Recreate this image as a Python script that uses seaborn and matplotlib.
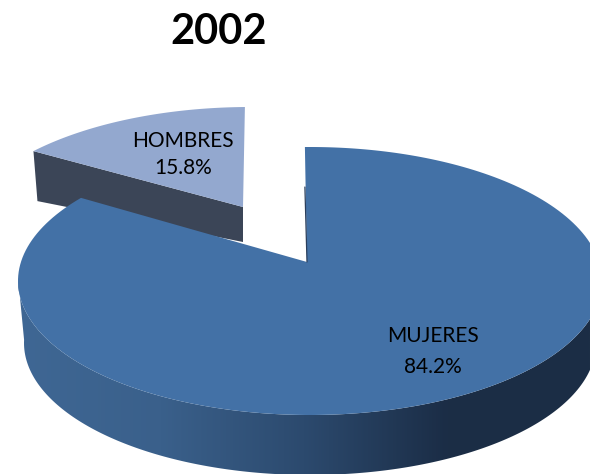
import numpy as np
import matplotlib
matplotlib.use("Agg")
import matplotlib.pyplot as plt
from matplotlib.patches import Polygon
import seaborn as sns

# data
title = "2002"
categories = ["MUJERES", "HOMBRES"]
shares = [84.2, 15.8]

sns.set_theme(style="white")
plt.rcParams['font.family'] = ['Lato', 'DejaVu Sans']

top_color = "#4371A6"
men_color = "#93A8CF"
men_side = "#3B4557"
side_cmap = sns.blend_palette(["#3F6794", "#3A608B", "#2C4A6E", "#1B2D46", "#1C2E45"], as_cmap=True)

fig = plt.figure(figsize=(5.9, 4.74), dpi=100)
ax = fig.add_axes([0, 0, 1, 1])
ax.set_xlim(0, 590)
ax.set_ylim(474, 0)
ax.axis("off")

CX, CY, RX, RY = 310, 281, 292, 134
DEPTH, RX2, RY2 = 62, 286, 132


def warp(deg):
    """tilted-view correction of a pie angle (deg clockwise from 12 o'clock)"""
    d = np.asarray(deg, dtype=float)
    return np.radians(d - 1 + 6.8 * np.sin(np.radians(2 * (360 - d))))


def arc(start, end, cx=CX, cy=CY, rx=RX, ry=RY, n=240):
    t = warp(np.linspace(start, end, n))
    return np.column_stack([cx + rx * np.sin(t), cy - ry * np.cos(t)])


boundary = shares[0] / sum(shares) * 360

# HOMBRES (exploded, behind)
DX, DY = -60, -40
men_arc = arc(boundary + 3.5, 360, CX + DX, CY + DY)
men_apex = np.array([243, 207])
end_pt = men_arc[0]
ax.add_patch(Polygon([end_pt, men_apex, men_apex + [0, 35], end_pt + [4, 50]],
                     closed=True, fc=men_side, ec="none", zorder=1))
ax.add_patch(Polygon(np.vstack([men_apex, men_arc]), closed=True,
                     fc=men_color, ec="none", zorder=2))

# MUJERES side wall with gradient
upper = arc(90, boundary)
upper = upper[upper[:, 1] >= CY - 5]
lower = arc(90, boundary, CX, CY + DEPTH, RX2, RY2)
lower = lower[lower[:, 1] >= CY + DEPTH - 5]
wall = Polygon(np.vstack([upper, lower[::-1]]), closed=True, fc="none", ec="none",
               transform=ax.transData, zorder=3)
ax.add_patch(wall)
grad = np.linspace(0, 1, 256).reshape(1, -1)
im = ax.imshow(grad, extent=[18, 590, 474, 260], cmap=side_cmap, aspect="auto", zorder=3)
im.set_clip_path(wall)
ax.set_xlim(0, 590)
ax.set_ylim(474, 0)

# MUJERES top face
apex = np.array([307, 262])
women_arc = arc(0, boundary)
ax.add_patch(Polygon(np.vstack([apex, women_arc]), closed=True,
                     fc=top_color, ec="none", zorder=4))
ax.plot([women_arc[0, 0], apex[0]], [women_arc[0, 1] + 40, apex[1]],
        color="#2B3F5C", lw=0.9, zorder=5)

# labels
ax.text(219, 32, title, ha="center", va="center", fontsize=30, fontweight="bold",
        color="black", zorder=6)
for name, share, (x, y0, y1) in zip(categories, shares,
                                    [(433, 336, 367), (183, 141, 168)]):
    ax.text(x, y0, name, ha="center", va="center", fontsize=15, color="black", zorder=6)
    ax.text(x, y1, f"{share}%", ha="center", va="center", fontsize=15, color="black", zorder=6)

fig.savefig("out.png", dpi=100, facecolor="white")
